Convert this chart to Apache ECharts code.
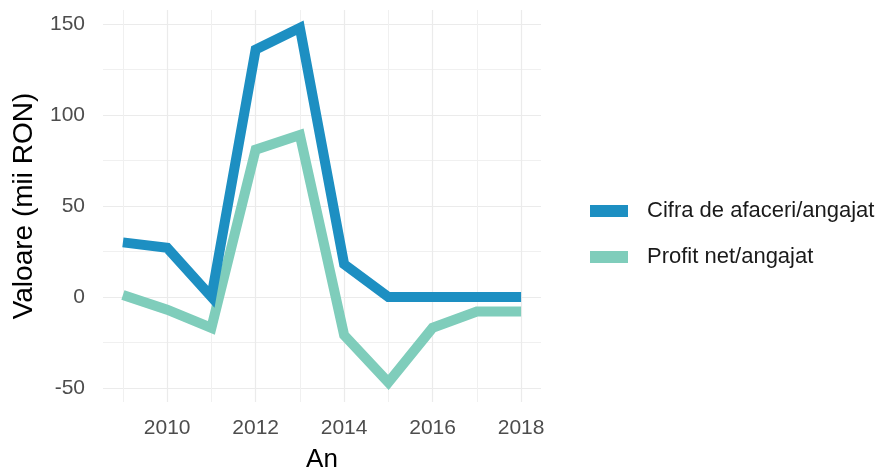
<!DOCTYPE html>
<html><head><meta charset="utf-8">
<script src="https://cdn.jsdelivr.net/npm/echarts@6/dist/echarts.min.js"></script>
<style>html,body{margin:0;padding:0;background:#fff}#c{width:885px;height:469px}</style>
</head><body><div id="c"></div>
<script>
const years = [2009, 2010, 2011, 2012, 2013, 2014, 2015, 2016, 2017, 2018];
const cifraAfaceri = [30, 27, 0, 136, 148, 18, 0, 0, 0, 0];
const profitNet = [1, -7, -17, 81, 89, -21, -47, -17, -8, -8];
const seriesNames = ['Cifra de afaceri/angajat', 'Profit net/angajat'];
const xMajorTicks = [2010, 2012, 2014, 2016, 2018];
const xMinorTicks = [2009, 2011, 2013, 2015, 2017];
const yMajorTicks = [-50, 0, 50, 100, 150];
const yMinorTicks = [-25, 25, 75, 125];
const colors = ['#1d8fc2', '#7fcdbb'];

const xMin = 2008.55, xMax = 2018.45, yMin = -57.8, yMax = 157.8;
const font = 'Liberation Sans, Arial, sans-serif';
const chart = echarts.init(document.getElementById('c'));
const pair = (xs, ys) => xs.map((x, i) => [x, ys[i]]);
chart.setOption({
  animation: false,
  grid: {left: 103, right: 344, top: 10, bottom: 67, containLabel: false, outerBoundsMode: 'none'},
  xAxis: [
    {type: 'value', min: xMin, max: xMax, name: 'An', nameLocation: 'middle', nameGap: 45,
     nameTextStyle: {fontFamily: font, fontSize: 26, color: '#000'},
     axisLine: {show: false},
     axisTick: {show: false, customValues: xMajorTicks},
     axisLabel: {customValues: xMajorTicks, color: '#4d4d4d', fontSize: 21, fontFamily: font, margin: 16,
                 formatter: v => String(v)},
     splitLine: {show: true, lineStyle: {color: '#ebebeb', width: 1.2}}},
    {type: 'value', min: xMin, max: xMax, show: true,
     axisLine: {show: false}, axisTick: {show: false, customValues: xMinorTicks},
     axisLabel: {show: false, customValues: xMinorTicks},
     splitLine: {show: true, lineStyle: {color: '#f0f0f0', width: 1}}}
  ],
  yAxis: [
    {type: 'value', min: yMin, max: yMax, name: 'Valoare (mii RON)', nameLocation: 'middle', nameGap: 65,
     nameTextStyle: {fontFamily: font, fontSize: 28, color: '#000'},
     axisLine: {show: false},
     axisTick: {show: false, customValues: yMajorTicks},
     axisLabel: {customValues: yMajorTicks, color: '#4d4d4d', fontSize: 21, fontFamily: font, margin: 18,
                 formatter: v => String(v)},
     splitLine: {show: true, lineStyle: {color: '#ebebeb', width: 1.2}}},
    {type: 'value', min: yMin, max: yMax, show: true,
     axisLine: {show: false}, axisTick: {show: false, customValues: yMinorTicks},
     axisLabel: {show: false, customValues: yMinorTicks},
     splitLine: {show: true, lineStyle: {color: '#f0f0f0', width: 1}}}
  ],
  legend: {
    left: 585, top: 193, orient: 'vertical', itemWidth: 38, itemHeight: 12, itemGap: 20,
    icon: 'rect',
    textStyle: {fontFamily: font, fontSize: 22, color: '#1a1a1a', lineHeight: 26, padding: [0, 0, 0, 14]},
    data: seriesNames
  },
  series: [
    {name: seriesNames[0], type: 'line', data: pair(years, cifraAfaceri), showSymbol: false, symbol: 'none',
     color: colors[0], lineStyle: {width: 10, color: colors[0], cap: 'butt', join: 'miter'}, z: 3},
    {name: seriesNames[1], type: 'line', data: pair(years, profitNet), showSymbol: false, symbol: 'none',
     color: colors[1], lineStyle: {width: 10, color: colors[1], cap: 'butt', join: 'miter'}, z: 2}
  ]
});
</script></body></html>
